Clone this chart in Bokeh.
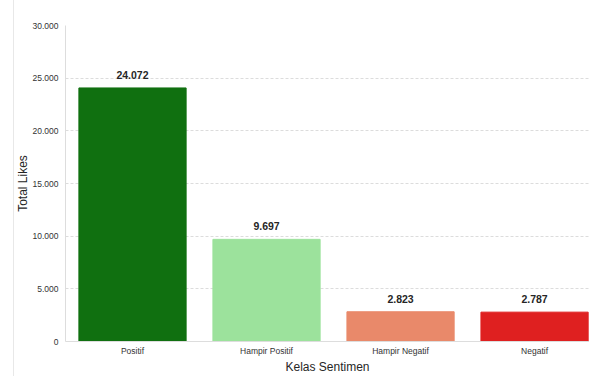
import numpy as np
from bokeh.plotting import figure
from bokeh.models import Range1d, FixedTicker, CustomJSTickFormatter, ColumnDataSource, LabelSet
from bokeh.core.properties import value
from bokeh.embed import file_html
from bokeh.resources import INLINE

categories = ["Positif", "Hampir Positif", "Hampir Negatif", "Negatif"]
total_likes = [24072, 9697, 2823, 2787]
bar_colors = ["#107010", "#9ce29c", "#e9896a", "#df2020"]
y_ticks = [0, 5000, 10000, 15000, 20000, 25000, 30000]

def fmt(v):
    return f"{v:,}".replace(",", ".")

xs = np.arange(len(categories))
src = ColumnDataSource(dict(x=xs, y=total_likes, color=bar_colors,
                            label=[fmt(v) for v in total_likes]))

p = figure(width=589, height=376, output_backend="svg", toolbar_location=None,
           x_range=Range1d(-0.5, 3.41), y_range=Range1d(0, 30000),
           min_border_left=65, min_border_right=0, min_border_top=25, min_border_bottom=35)
p.outline_line_color = None
p.background_fill_color = "white"
p.border_fill_alpha = 0
p.styles = {"background": "linear-gradient(to right, white 13px, #e8e8e8 13px, #e8e8e8 14px, white 14px)"}

p.vbar(x="x", top="y", width=0.8, color="color", line_color="color", source=src)

labels = LabelSet(x="x", y="y", text="label", source=src, text_align="center",
                  text_baseline="alphabetic", y_offset=9, text_font=value("Liberation Sans"),
                  text_font_size=value("10.5px"), text_font_style="bold", text_color="#262626")
p.add_layout(labels)

p.xgrid.visible = False
p.ygrid.grid_line_color = "#dcdcdc"
p.ygrid.grid_line_dash = "3 2"
p.ygrid.grid_line_width = 1

p.xaxis.ticker = FixedTicker(ticks=list(xs))
p.xaxis.major_label_overrides = {int(i): c for i, c in zip(xs, categories)}
p.yaxis.ticker = FixedTicker(ticks=y_ticks)
p.yaxis.formatter = CustomJSTickFormatter(code="""
return Math.round(tick).toString().replace(/\\B(?=(\\d{3})+(?!\\d))/g, '.');
""")

for ax in (p.xaxis[0], p.yaxis[0]):
    ax.axis_line_color = "#dddddd"
    ax.major_tick_line_color = None
    ax.minor_tick_line_color = None
    ax.major_tick_out = 0
    ax.major_tick_in = 0
    ax.minor_tick_out = 0
    ax.minor_tick_in = 0
    ax.major_label_text_font = "Liberation Sans"
    ax.major_label_text_font_size = "8.5px"
    ax.major_label_text_color = "#333333"
    ax.axis_label_text_font = "Liberation Sans"
    ax.axis_label_text_font_size = "12px"
    ax.axis_label_text_font_style = "normal"
    ax.axis_label_text_color = "#262626"

p.xaxis.axis_label = "Kelas Sentimen"
p.yaxis.axis_label = "Total Likes"
p.xaxis.major_label_standoff = 4
p.yaxis.major_label_standoff = 7
p.xaxis.axis_label_standoff = 1
p.yaxis.axis_label_standoff = 0

open("out.html", "w").write(file_html(p, INLINE))
